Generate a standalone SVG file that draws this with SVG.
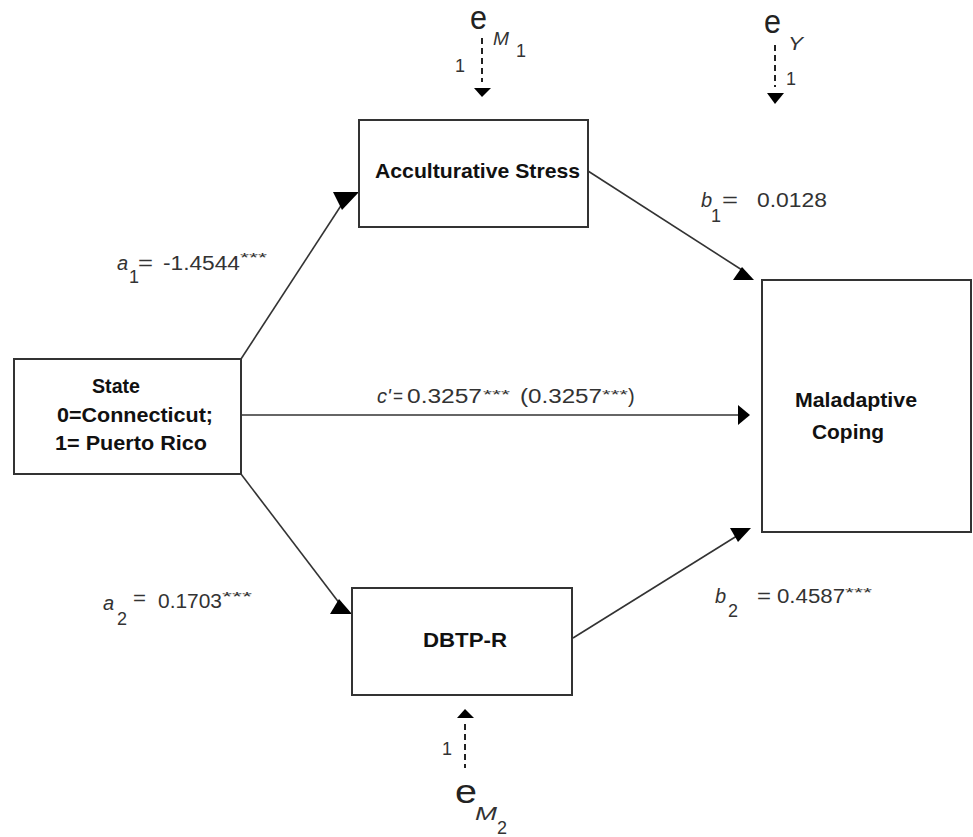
<svg xmlns="http://www.w3.org/2000/svg" width="973" height="837" viewBox="0 0 973 837">
<style>
.box{fill:#fff;stroke:#333;stroke-width:2}
.nt{font-family:"Liberation Sans",Arial,sans-serif;font-weight:bold;font-size:21px;fill:#111}
.lb{font-family:"Liberation Sans",Arial,sans-serif;font-size:20px;fill:#333}
.it{font-style:italic}
.sub{font-family:"Liberation Sans",Arial,sans-serif;font-size:18px;fill:#333}
.st{font-family:"Liberation Sans",Arial,sans-serif;font-size:13px;fill:#333}
.ee{font-family:"Liberation Sans",Arial,sans-serif;font-size:33px;fill:#222}
.ln{stroke:#333;stroke-width:1.6;fill:none}
.ds{stroke:#222;stroke-width:2;fill:none;stroke-dasharray:6 4}
.ah{fill:#000}
</style>
<rect width="973" height="837" fill="#fff"/>

<g id="connectors">
  <line class="ln" x1="241" y1="359" x2="344" y2="201"/>
  <polygon class="ah" points="333,192 359,192 342,210"/>
  <line class="ln" x1="241" y1="474" x2="340" y2="604"/>
  <polygon class="ah" points="330,614 352,614 339,599"/>
  <line class="ln" x1="241" y1="415" x2="740" y2="415"/>
  <polygon class="ah" points="738,405 750,415 738,425"/>
  <line class="ln" x1="588" y1="171" x2="742" y2="270"/>
  <polygon class="ah" points="733,280 754,280 742,267"/>
  <line class="ln" x1="573" y1="638" x2="740" y2="534"/>
  <polygon class="ah" points="730,528 751,528 738,542"/>
  <line class="ds" x1="482" y1="38" x2="482" y2="82"/>
  <polygon class="ah" points="474,88 491,88 482,97"/>
  <line class="ds" x1="775" y1="45" x2="775" y2="87"/>
  <polygon class="ah" points="767,93 784,93 775,104"/>
  <line class="ds" x1="465" y1="724" x2="465" y2="768"/>
  <polygon class="ah" points="457,718 474,718 465,709"/>
</g>

<g id="node-acculturative-stress">
  <rect class="box" x="359" y="120" width="229" height="107"/>
  <text class="nt" x="375" y="178" textLength="205" lengthAdjust="spacingAndGlyphs">Acculturative Stress</text>
</g>

<g id="node-state">
  <rect class="box" x="14" y="359" width="227" height="115"/>
  <text class="nt" x="92" y="393" textLength="48" lengthAdjust="spacingAndGlyphs">State</text>
  <text class="nt" x="57" y="422" textLength="156" lengthAdjust="spacingAndGlyphs">0=Connecticut;</text>
  <text class="nt" x="55" y="450" textLength="152" lengthAdjust="spacingAndGlyphs">1= Puerto Rico</text>
</g>

<g id="node-maladaptive-coping">
  <rect class="box" x="762" y="280" width="209" height="252"/>
  <text class="nt" x="795" y="407" textLength="122" lengthAdjust="spacingAndGlyphs">Maladaptive</text>
  <text class="nt" x="812" y="439" textLength="72" lengthAdjust="spacingAndGlyphs">Coping</text>
</g>

<g id="node-dbtp-r">
  <rect class="box" x="352" y="588" width="220" height="107"/>
  <text class="nt" x="423" y="647" textLength="84" lengthAdjust="spacingAndGlyphs">DBTP-R</text>
</g>

<g id="node-e-m1">
  <text class="ee" x="470" y="29" textLength="17" lengthAdjust="spacingAndGlyphs">e</text>
  <text class="sub it" x="493" y="45" font-size="19" textLength="16" lengthAdjust="spacingAndGlyphs">M</text>
  <text class="sub" x="516" y="57">1</text>
  <text class="sub" x="455" y="72">1</text>
</g>

<g id="node-e-y">
  <text class="ee" x="764" y="33" textLength="17" lengthAdjust="spacingAndGlyphs">e</text>
  <text class="sub it" x="788" y="50" font-size="21" textLength="15" lengthAdjust="spacingAndGlyphs">Y</text>
  <text class="sub" x="786" y="85">1</text>
</g>

<g id="node-e-m2">
  <text class="ee" x="455" y="803" textLength="22" lengthAdjust="spacingAndGlyphs">e</text>
  <text class="sub it" x="475" y="820" font-size="21" textLength="22" lengthAdjust="spacingAndGlyphs">M</text>
  <text class="sub" x="497" y="834" font-size="18">2</text>
  <text class="sub" x="442" y="755">1</text>
</g>

<g id="labels">
  <text class="lb it" x="117" y="270" font-size="19">a</text>
  <text class="sub" x="129" y="283" font-size="17">1</text>
  <text class="lb" x="138" y="270" textLength="15" lengthAdjust="spacingAndGlyphs">=</text>
  <text class="lb" x="163" y="270" font-size="19" textLength="77" lengthAdjust="spacingAndGlyphs">-1.4544</text>
  <text class="st" x="240" y="262" textLength="27" lengthAdjust="spacingAndGlyphs">***</text>

  <text class="lb it" x="103" y="610" font-size="19">a</text>
  <text class="sub" x="117" y="625">2</text>
  <text class="lb" x="133" y="605" textLength="13" lengthAdjust="spacingAndGlyphs">=</text>
  <text class="lb" x="158" y="608" font-size="19" textLength="64" lengthAdjust="spacingAndGlyphs">0.1703</text>
  <text class="st" x="222" y="601" textLength="30" lengthAdjust="spacingAndGlyphs">***</text>

  <text class="lb it" x="701" y="207" font-size="20">b</text>
  <text class="sub" x="711" y="222" font-size="18">1</text>
  <text class="lb" x="722" y="207" textLength="16" lengthAdjust="spacingAndGlyphs">=</text>
  <text class="lb" x="757" y="207" font-size="21" textLength="70" lengthAdjust="spacingAndGlyphs">0.0128</text>

  <text class="lb it" x="715" y="603" font-size="20">b</text>
  <text class="sub" x="728" y="617" font-size="20">2</text>
  <text class="lb" x="757" y="603" textLength="14" lengthAdjust="spacingAndGlyphs">=</text>
  <text class="lb" x="777" y="603" font-size="20" textLength="68" lengthAdjust="spacingAndGlyphs">0.4587</text>
  <text class="st" x="845" y="597" textLength="27" lengthAdjust="spacingAndGlyphs">***</text>

  <text class="lb it" x="377" y="403" font-size="19">c'</text>
  <text class="lb" x="393" y="403" font-size="19" textLength="10" lengthAdjust="spacingAndGlyphs">=</text>
  <text class="lb" x="407" y="403" font-size="19" textLength="75" lengthAdjust="spacingAndGlyphs">0.3257</text>
  <text class="st" x="483" y="399" textLength="27" lengthAdjust="spacingAndGlyphs">***</text>
  <text class="lb" x="520" y="403" font-size="19" textLength="82" lengthAdjust="spacingAndGlyphs">(0.3257</text>
  <text class="st" x="602" y="399" textLength="26" lengthAdjust="spacingAndGlyphs">***</text>
  <text class="lb" x="628" y="403" font-size="19">)</text>
</g>
</svg>
